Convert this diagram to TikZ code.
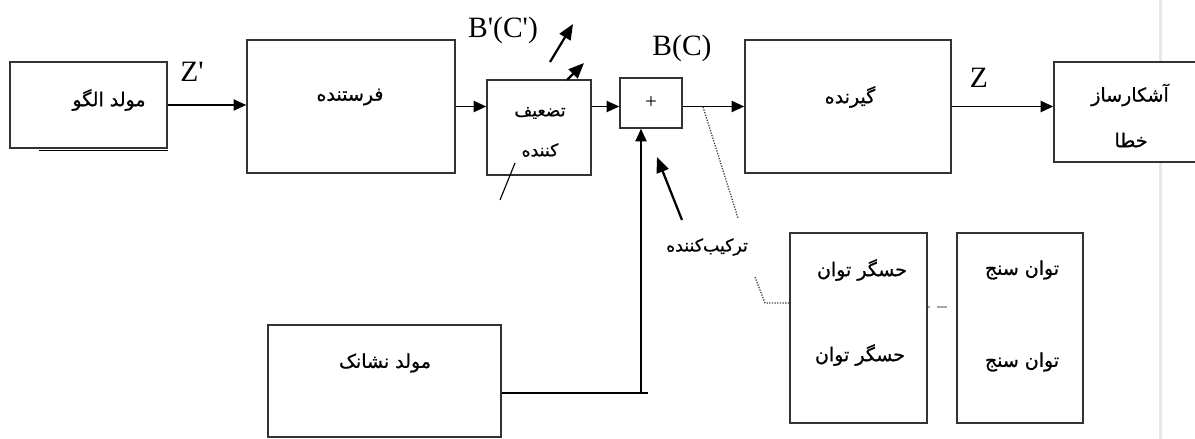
\documentclass[tikz,border=0pt]{standalone}
\usepackage{fontspec}
\setmainfont{Liberation Serif}
\newfontfamily\farsi[Script=Arabic, UprightFeatures={FakeBold=0.8}]{DejaVu Sans}
\TeXXeTstate=1
\usetikzlibrary{arrows.meta}
\newcommand{\ftxt}[1]{{\farsi\beginR #1\endR}}

\begin{document}
\begin{tikzpicture}[x=0.025cm, y=-0.025cm, line width=1.1pt,
    >={Triangle[length=9pt, width=8pt]},
    block/.style={draw=black!80, fill=white, inner sep=0pt},
    fa/.style={font=\fontsize{13.5}{16}\selectfont},
    fa small/.style={font=\fontsize{12.3}{14}\selectfont},
    sig/.style={font=\fontsize{21}{24}\selectfont},
    pointer/.style={line width=1.6pt, -{Triangle[length=11pt, width=9pt]}}]
    \useasboundingbox (0,0) rectangle (1195,439);
    \clip (0,0) rectangle (1195,439);
    \fill[white] (0,0) rectangle (1195,439);
    % page edge
    \fill[black!9] (1159,0) rectangle (1162,439);

    % blocks of the main chain
    \node[block, minimum width=3.925cm, minimum height=2.15cm] (pattern) at (88.5,105) {};
    \node[block, minimum width=5.2cm, minimum height=3.325cm] (sender) at (351,106.5) {};
    \node[block, minimum width=2.6cm, minimum height=2.375cm] (atten) at (539,127.5) {};
    \node[block, minimum width=1.55cm, minimum height=1.25cm] (adder) at (651,103) {};
    \node[block, minimum width=5.15cm, minimum height=3.325cm] (receiver) at (848,106.5) {};
    \node[block, minimum width=4.025cm, minimum height=2.5cm] (detector) at (1134.5,112) {};
    % blocks below
    \node[block, minimum width=5.825cm, minimum height=2.8cm] (noise) at (384.5,381) {};
    \node[block, minimum width=3.425cm, minimum height=4.75cm] (sensor) at (858.5,328) {};
    \node[block, minimum width=3.15cm, minimum height=4.75cm] (meter) at (1020,328) {};
    \draw[line width=0.8pt] ([yshift=-1pt]pattern.south east) -- ++(-129,0);

    % texts in the blocks
    \node[fa] (pattern-t) at (109,100) {\ftxt{مولد الگو}};
    \node[fa] (sender-t) at (350,97) {\ftxt{فرستنده}};
    \node[fa small] (atten-t1) at (540,113) {\ftxt{تضعیف}};
    \node[fa small] (atten-t2) at (540,150) {\ftxt{کننده}};
    \node[font=\fontsize{15}{17}\selectfont] (adder-t) at (651,103) {+};
    \node[fa] (receiver-t) at (850,97) {\ftxt{گیرنده}};
    \node[fa] (detector-t1) at (1130,95) {\ftxt{آشکارساز}};
    \node[fa] (detector-t2) at (1131,140) {\ftxt{خطا}};
    \node[fa] (noise-t) at (385,363) {\ftxt{مولد نشانک}};
    \node[fa] (sensor-t1) at (862,270) {\ftxt{حسگر توان}};
    \node[fa] (sensor-t2) at (860,355) {\ftxt{حسگر توان}};
    \node[fa] (meter-t1) at (1022,270) {\ftxt{توان سنج}};
    \node[fa] (meter-t2) at (1022,362) {\ftxt{توان سنج}};
    \node[fa small] (mixer-t) at (707,247) {\ftxt{ترکیب‌کننده}};

    % signal names
    \node[sig] (zp) at (192,72) {Z\textquotesingle};
    \node[sig] (bcp) at (503,30) {B\textquotesingle(C\textquotesingle)};
    \node[sig] (bc) at (682,48) {B(C)};
    \node[sig] (z) at (979,78) {Z};

    % main chain
    \draw[->] (pattern.east) -- (pattern.east -| sender.west);
    \draw[->] (sender.east) -- (sender.east -| atten.west);
    \draw[->] (sender.east -| atten.east) -- (sender.east -| adder.west);
    \draw[->] (sender.east -| adder.east) -- (receiver.west);
    \draw[->] (receiver.east) -- (receiver.east -| detector.west);

    % noise into the adder
    \coordinate (join) at (641,393);
    \coordinate (join-end) at (648,393);
    \draw (noise.east |- join) -- (join-end);
    \draw[->] (join) -- (join |- adder.south);

    % pointers
    \coordinate (p1) at (550,62);  \coordinate (p1-end) at (573,24);
    \coordinate (p2) at (567,80);  \coordinate (p2-end) at (584,63);
    \coordinate (p3) at (682,220); \coordinate (p3-end) at (657,157);
    \draw[pointer] (p1) -- (p1-end);
    \draw[pointer] (p2) -- (p2-end);
    \draw[pointer] (p3) -- (p3-end);
    \coordinate (s1) at (515,163); \coordinate (s2) at (500,200);
    \draw[line width=0.8pt] (s1) -- (s2);

    % taps to the power sensor
    \coordinate (tap) at (703,107);
    \coordinate (d1) at (738,218);
    \coordinate (d2) at (755,277);
    \coordinate (d3) at (765,303);
    \coordinate (d4) at (0,307);
    \draw[densely dotted, black!75, line width=0.9pt] (tap) -- (d1);
    \draw[densely dotted, black!75, line width=0.9pt] (d2) -- (d3) -- (d3 -| sensor.west);
    \draw[black!35, line width=0.8pt, dash pattern=on 1.5pt off 5pt on 7pt off 20pt]
        (sensor.east |- d4) -- (d4 -| meter.west);
\end{tikzpicture}
\end{document}
